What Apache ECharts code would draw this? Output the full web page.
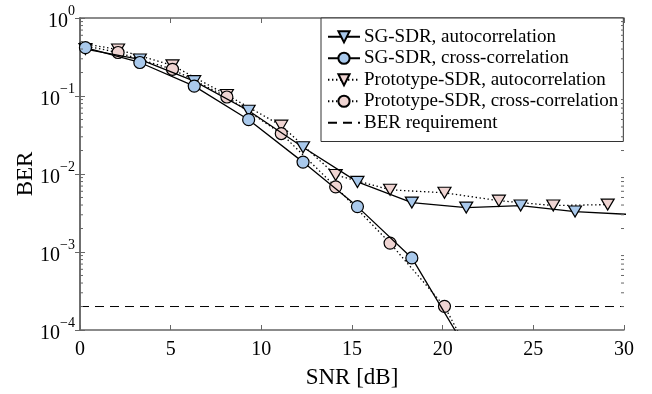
<!DOCTYPE html>
<html>
<head>
<meta charset="utf-8">
<script src="https://cdn.jsdelivr.net/npm/echarts@6/dist/echarts.min.js"></script>
<style>
  html, body { margin: 0; padding: 0; background: #fff; overflow: hidden; }
  #chart { width: 652px; height: 394px; }
</style>
</head>
<body>
<div id="chart"></div>
<script>
// BER versus SNR for two receivers and two synchronisation methods
const snrSG = [0.3, 3.3, 6.3, 9.3, 12.3, 15.3, 18.3, 21.3, 24.3, 27.3, 30.3];
const berSGAuto = [0.40, 0.294, 0.155, 0.0646, 0.0220, 0.00792, 0.00430, 0.00371, 0.00394, 0.00330, 0.00303];
const snrSGCross = [0.3, 3.3, 6.3, 9.3, 12.3, 15.3, 18.3, 21.3];
const berSGCross = [0.417, 0.269, 0.134, 0.0497, 0.0142, 0.00382, 0.000839, 0.000057];
const snrProto = [-0.9, 2.1, 5.1, 8.1, 11.1, 14.1, 17.1, 20.1, 23.1, 26.1, 29.1];
const berProtoAuto = [0.52, 0.394, 0.247, 0.103, 0.0417, 0.00971, 0.00627, 0.00574, 0.00455, 0.00394, 0.00405];
const snrProtoCross = [-0.9, 2.1, 5.1, 8.1, 11.1, 14.1, 17.1, 20.1, 23.1];
const berProtoCross = [0.50, 0.361, 0.220, 0.0971, 0.0330, 0.00685, 0.00130, 0.000201, 0.00001];
const berRequirement = 2e-4;
const snrRange = [0, 30];
const xTicks = [0, 5, 10, 15, 20, 25, 30];
const yMin = 1e-4, yMax = 1;

const seriesNames = [
  'SG-SDR, autocorrelation',
  'SG-SDR, cross-correlation',
  'Prototype-SDR, autocorrelation',
  'Prototype-SDR, cross-correlation',
  'BER requirement'
];

const FONT = '"Liberation Serif", "Times New Roman", serif';
const BLUE = '#a9c9ec';
const PINK = '#efd4d2';
const FRAME = '#666';

const zip = (xs, ys) => xs.map((x, i) => [x, ys[i]]);

// minor log ticks: 2..9 within each decade
const minorVals = [];
for (let e = -4; e < 0; e++) {
  for (let m = 2; m <= 9; m++) minorVals.push([0, m * Math.pow(10, e)]);
}

const supMap = { '-': '\u2212' };
function decadeLabel(v) {
  const e = Math.round(Math.log10(v));
  const s = String(e).split('').map(c => supMap[c] || c).join('');
  return '{b|10}{s|' + s + '}';
}

function markerSeries(name, data, symbol, fill, dotted) {
  return {
    name, type: 'line', data,
    symbol, symbolSize: symbol === 'circle' ? 12 : [13, 11],
    symbolRotate: symbol === 'triangle' ? 180 : 0,
    clip: true,
    lineStyle: { color: '#000', width: 1.3, type: dotted ? [1.4, 2.6] : 'solid' },
    itemStyle: { color: fill, borderColor: '#000', borderWidth: 1.2 },
    emphasis: { disabled: true },
    z: dotted ? 3 : 4
  };
}

const chart = echarts.init(document.getElementById('chart'), null, { renderer: 'canvas', width: 652, height: 394 });

const axisCommon = {
  axisLine: { show: true, lineStyle: { color: FRAME, width: 1.5 } },
  axisTick: { show: true, inside: true, length: 5, lineStyle: { color: FRAME, width: 1 } },
  splitLine: { show: false }
};

chart.setOption({
  animation: false,
  backgroundColor: '#fff',
  grid: { left: 80, right: 28, top: 18, bottom: 60, containLabel: false },
  legend: {
    data: seriesNames,
    orient: 'vertical',
    left: 321, top: 18,
    padding: [8, 5, 8, 6],
    itemGap: 0,
    itemWidth: 32, itemHeight: 14,
    backgroundColor: '#fff',
    borderColor: '#333', borderWidth: 1, borderRadius: 0,
    textStyle: { fontFamily: FONT, fontSize: 19, color: '#000', lineHeight: 21.5, padding: [0, 0, 0, -1] }
  },
  xAxis: [
    Object.assign({}, axisCommon, {
      type: 'value', min: snrRange[0], max: snrRange[1], interval: 5, position: 'bottom',
      name: 'SNR [dB]', nameLocation: 'middle', nameGap: 36, nameMoveOverlap: false,
      nameTextStyle: { fontFamily: FONT, fontSize: 23, color: '#000' },
      axisLabel: { fontFamily: FONT, fontSize: 20, color: '#000', margin: 10,
        customValues: xTicks }
    }),
    Object.assign({}, axisCommon, {
      type: 'value', min: snrRange[0], max: snrRange[1], interval: 5, position: 'top',
      axisLabel: { show: false }
    })
  ],
  yAxis: [
    Object.assign({}, axisCommon, {
      type: 'log', logBase: 10, min: yMin, max: yMax, splitNumber: 4, position: 'left',
      name: 'BER', nameLocation: 'middle', nameGap: 43, nameMoveOverlap: false,
      nameTextStyle: { fontFamily: FONT, fontSize: 23, color: '#000' },
      axisLabel: {
        margin: 5,
        formatter: decadeLabel,
        rich: {
          b: { fontFamily: FONT, fontSize: 20, color: '#000', verticalAlign: 'bottom', lineHeight: 28 },
          s: { fontFamily: FONT, fontSize: 14, color: '#000', verticalAlign: 'top', lineHeight: 28 }
        }
      }
    }),
    Object.assign({}, axisCommon, {
      type: 'log', logBase: 10, min: yMin, max: yMax, splitNumber: 4, position: 'right',
      axisLabel: { show: false }
    })
  ],
  series: [
    markerSeries(seriesNames[0], zip(snrSG, berSGAuto), 'triangle', BLUE, false),
    markerSeries(seriesNames[1], zip(snrSGCross, berSGCross), 'circle', BLUE, false),
    markerSeries(seriesNames[2], zip(snrProto, berProtoAuto), 'triangle', PINK, true),
    markerSeries(seriesNames[3], zip(snrProtoCross, berProtoCross), 'circle', PINK, true),
    {
      name: seriesNames[4], type: 'line',
      data: [[snrRange[0], berRequirement], [snrRange[1], berRequirement]],
      symbol: 'circle', showSymbol: false, symbolSize: 0,
      itemStyle: { color: 'rgba(0,0,0,0)', borderWidth: 0 },
      lineStyle: { color: '#000', width: 1, type: [9, 6] },
      emphasis: { disabled: true },
      z: 2
    },
    {
      // minor logarithmic ticks on the left and right frame edges
      type: 'custom', silent: true, clip: false, z: 5,
      data: minorVals,
      encode: { x: 0, y: 1 },
      renderItem: function (params, api) {
        const v = api.value(1);
        const l = api.coord([snrRange[0], v]);
        const r = api.coord([snrRange[1], v]);
        const st = { stroke: FRAME, lineWidth: 1 };
        return {
          type: 'group',
          children: [
            { type: 'line', shape: { x1: l[0], y1: l[1], x2: l[0] + 3, y2: l[1] }, style: st },
            { type: 'line', shape: { x1: r[0], y1: r[1], x2: r[0] - 3, y2: r[1] }, style: st }
          ]
        };
      }
    }
  ]
});
</script>
</body>
</html>
